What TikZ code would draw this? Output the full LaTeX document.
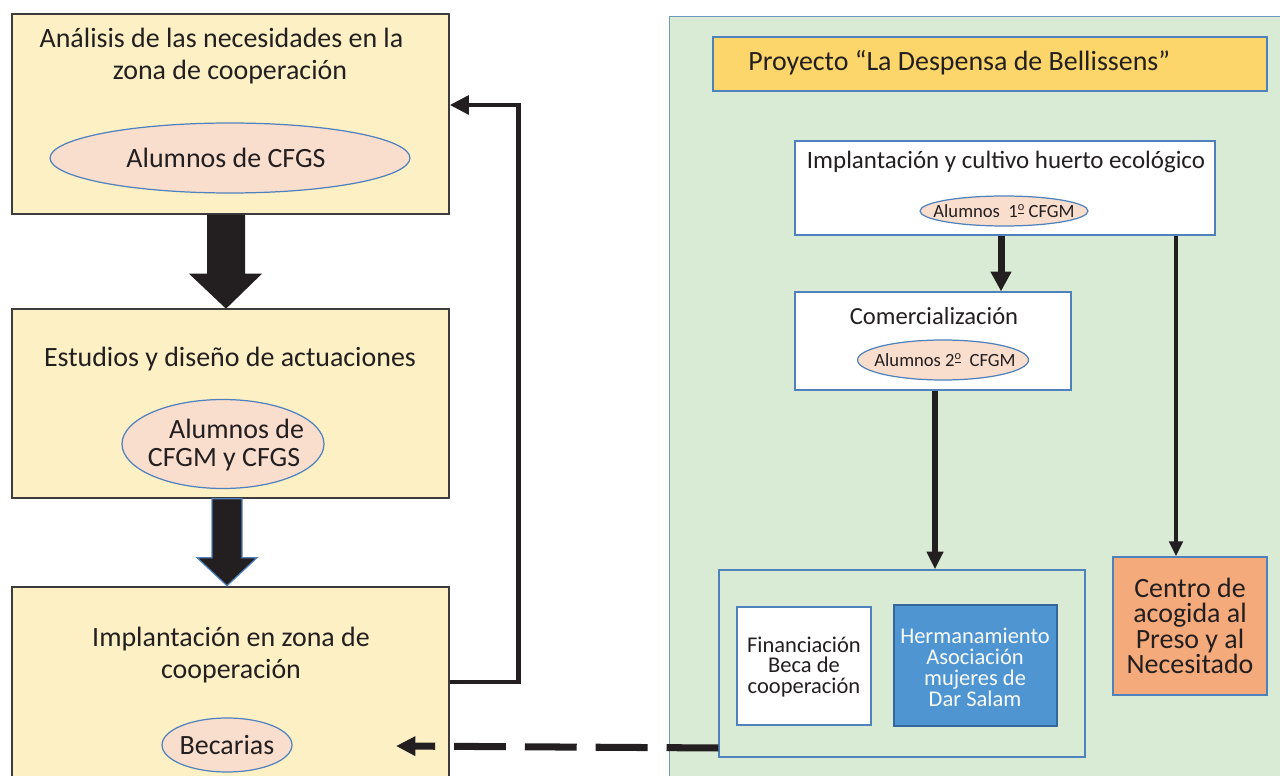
\documentclass[tikz,border=0pt]{standalone}
\usepackage{fontspec}
\setmainfont{Carlito}
\usetikzlibrary{shapes.geometric,arrows.meta,calc}
\definecolor{ink}{HTML}{231F20}
\definecolor{yfill}{HTML}{FDF0C5}
\definecolor{ydraw}{HTML}{3C3C3C}
\definecolor{peachfill}{HTML}{F9DECE}
\definecolor{bdraw}{HTML}{4F81BD}
\definecolor{gfill}{HTML}{D9EBD5}
\definecolor{gdraw}{HTML}{6A98C0}
\definecolor{barfill}{HTML}{FCD66A}
\definecolor{hmfill}{HTML}{4F95D2}
\definecolor{hmdraw}{HTML}{36679A}
\definecolor{ccfill}{HTML}{F4AA7B}
\newcommand\fsz[2]{\fontsize{#1}{#2}\selectfont}
\newcommand\ordo{\raisebox{0.8ex}{\fontsize{7}{7}\selectfont\underline{o}}}
\begin{document}
\begin{tikzpicture}[x=0.02cm,y=-0.02cm,
  ybox/.style={rectangle,draw=ydraw,fill=yfill,line width=0.8pt,inner sep=0pt},
  peach/.style={ellipse,draw=bdraw,fill=peachfill,line width=0.7pt,inner sep=0pt},
  wbox/.style={rectangle,draw=bdraw,fill=white,line width=0.7pt,inner sep=0pt},
  panel/.style={rectangle,draw=gdraw,fill=gfill,line width=0.8pt,inner sep=0pt},
  txt/.style={align=center,inner sep=0pt,text=ink},
  fmain/.style={font=\fsz{15.9}{18.1}},
  conn/.style={draw=ink,line cap=butt,line join=miter}
]
\useasboundingbox (0,0) rectangle (1280,776);
\clip (0,0) rectangle (1280,776);

% ---------- left column ----------
\node[ybox,minimum width=8.74cm,minimum height=4cm] (b1) at (230.5,114) {};
\node[ybox,minimum width=8.74cm,minimum height=3.78cm] (b2) at (230.5,403.5) {};
\node[ybox,minimum width=8.74cm,minimum height=4.06cm] (b3) at (230.5,688.5) {};

\node[txt,fmain] (t1) at (230,56) {Análisis de las necesidades en la\hspace*{0.34cm}\\zona de cooperación};
\node[peach,minimum width=7.2cm,minimum height=1.4cm] (e1) at (230,158) {};
\node[txt,fmain] (e1t) at (226,158) {Alumnos de CFGS};

\node[txt,fmain] (t2) at (230,359) {Estudios y diseño de actuaciones};
\node[peach,minimum width=4.04cm,minimum height=1.78cm] (e2) at (223,444) {};
\node[txt,font=\fsz{15.9}{16.4}] (e2t) at (224,445) {\hspace*{0.9em}Alumnos de\\CFGM y CFGS};

\node[txt,fmain] (t3) at (231,655) {Implantación en zona de\\cooperación};
\node[peach,minimum width=2.6cm,minimum height=1.08cm] (e3) at (227,745) {};
\node[txt,fmain] (e3t) at (e3) {Becarias};

% block arrows
\fill[ink] ($(b1.south)+(-23.5,0)$) -- ($(b1.south)+(14.5,0)$) -- ($(b1.south)+(14.5,59)$)
  -- ($(b1.south)+(31.5,59)$) -- ($(b1.south)+(-4.5,94)$) -- ($(b1.south)+(-41.5,59)$)
  -- ($(b1.south)+(-23.5,59)$) -- cycle;
\filldraw[fill=ink,draw=bdraw,line width=0.7pt] ($(b2.south)+(-18.5,0)$) -- ($(b2.south)+(11.5,0)$)
  -- ($(b2.south)+(11.5,59)$) -- ($(b2.south)+(26.5,59)$) -- ($(b2.south)+(-3.5,87)$)
  -- ($(b2.south)+(-33.5,59)$) -- ($(b2.south)+(-18.5,59)$) -- cycle;

% feedback connector
\draw[conn,line width=2.8pt,-{Triangle[length=11pt,width=10.5pt]}]
  ([yshift=0.13cm]b3.east) -- ++(69,0) |- ([yshift=0.18cm]b1.east);

% ---------- right panel ----------
\node[panel,minimum width=12.42cm,minimum height=15.48cm,anchor=north west] (gp) at (669,16) {};
\node[rectangle,draw=bdraw,fill=barfill,line width=0.7pt,minimum width=11.08cm,minimum height=1.08cm] (pb) at (990,64) {};
\node[txt,fmain,anchor=west] (pbt) at (748,63) {Proyecto “La Despensa de Bellissens”};

\node[wbox,minimum width=8.4cm,minimum height=1.88cm] (hb) at (1005,188) {};
\node[txt,font=\fsz{14.2}{16}] (hbt) at (1006,162) {Implantación y cultivo huerto ecológico};
\node[peach,minimum width=3.36cm,minimum height=0.6cm] (ea) at (1004,211) {};
\node[txt,font=\fsz{10.6}{12}] (eat) at (1004,211) {Alumnos\ \ 1\ordo{} CFGM};

\node[wbox,minimum width=5.52cm,minimum height=1.96cm] (cb) at (933,341) {};
\node[txt,font=\fsz{14}{15}] (cbt) at (934,316) {Comercialización};
\node[peach,minimum width=3.42cm,minimum height=0.8cm] (eb) at (943,360) {};
\node[txt,font=\fsz{10.6}{12}] (ebt) at (945,360) {Alumnos 2\ordo\ \ CFGM};

\node[rectangle,draw=bdraw,fill=gfill,line width=0.8pt,minimum width=7.32cm,minimum height=3.74cm] (ib) at (902,663.5) {};
\node[wbox,minimum width=2.68cm,minimum height=2.36cm] (fb) at (804,666) {};
\node[txt,font=\fsz{12.8}{11.9}] (fbt) at (804,667) {Financiación\\Beca de\\cooperación};
\node[rectangle,draw=hmdraw,fill=hmfill,line width=1pt,minimum width=3.26cm,minimum height=2.42cm] (hm) at (975.5,665.5) {};
\node[align=center,inner sep=0pt,text=white!96!hmfill,font=\fsz{12.8}{11.9}] (hmt) at (975,667) {Hermanamiento\\Asociación\\mujeres de\\Dar Salam};

\node[rectangle,draw=bdraw,fill=ccfill,line width=0.8pt,minimum width=3.08cm,minimum height=2.76cm] (cc) at (1190,626) {};
\node[txt,font=\fsz{15.9}{14.4}] (cct) at (1190,626) {Centro de\\acogida al\\Preso y al\\Necesitado};

% connectors in panel
\draw[conn,line width=4pt,-{Triangle[length=11.3pt,width=11.3pt]}]
  ([xshift=-0.08cm]hb.south) -- ([xshift=-0.08cm]hb.south |- cb.north);
\draw[conn,line width=3.8pt,-{Triangle[length=10pt,width=9pt]}]
  ([xshift=0.04cm]cb.south) -- ([xshift=0.04cm]cb.south |- ib.north);
\draw[conn,line width=2.8pt,-{Triangle[length=8.5pt,width=7.6pt]}]
  ([xshift=3.42cm]hb.south) -- ([xshift=3.42cm]hb.south |- cc.north);

% dashed connector
\coordinate (dtip) at (396,746);
\draw[conn,line width=4pt,dash pattern=on 29.5pt off 10.8pt,-{Triangle[length=11pt,width=10.5pt]}]
  ([yshift=-1.69cm]ib.west) -- (dtip);
\end{tikzpicture}
\end{document}
